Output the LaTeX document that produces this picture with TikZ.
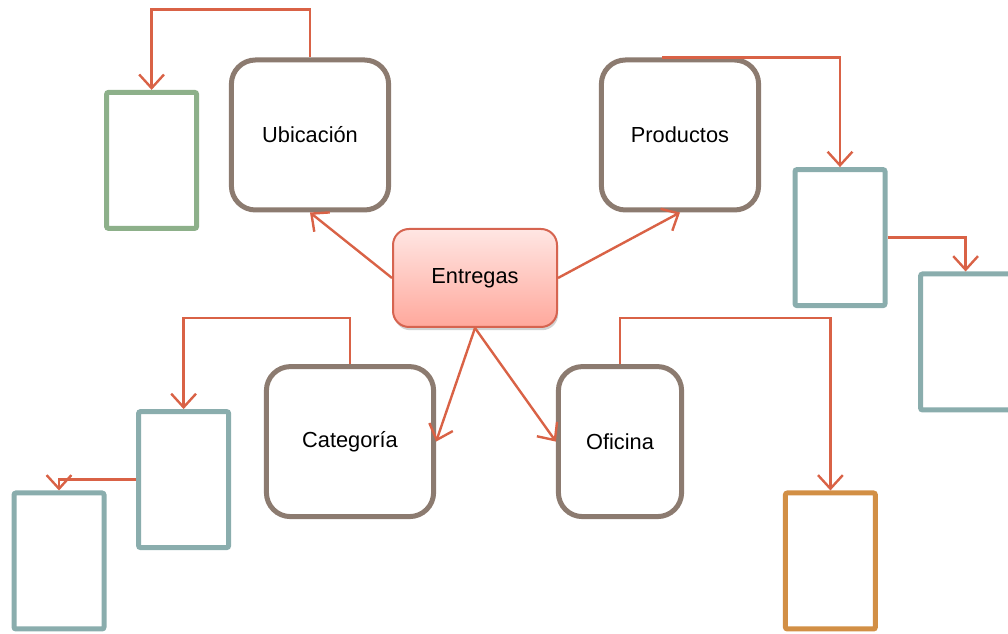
\documentclass[tikz,border=0pt]{standalone}
\usepackage{fontspec}
\setmainfont{Liberation Sans}
\usepackage{xcolor}
\usepackage{tikz}
\usetikzlibrary{positioning, calc, arrows.meta, shadows}
\definecolor{BoxBorder}{RGB}{140,123,112}
\definecolor{LinkColor}{RGB}{217,98,70}
\definecolor{CenterBorder}{RGB}{214,100,80}
\definecolor{CenterTop}{RGB}{255,230,227}
\definecolor{CenterBottom}{RGB}{255,168,156}
\definecolor{GreenBox}{RGB}{141,176,138}
\definecolor{TealBox}{RGB}{138,173,173}
\definecolor{OrangeBox}{RGB}{210,143,69}
\tikzset{
    tema/.style={
        rectangle,
        rounded corners=0.6cm,
        minimum height=3.75cm,
        align=center,
        draw=BoxBorder,
        line width=0.125cm,
        fill=white,
        font=\fontsize{15.5}{18}\selectfont
    },
    centro/.style={
        rectangle,
        rounded corners=0.4cm,
        minimum width=4.1cm,
        minimum height=2.45cm,
        draw=CenterBorder,
        line width=0.05cm,
        top color=CenterTop,
        bottom color=CenterBottom,
        drop shadow={shadow xshift=0.03cm, shadow yshift=-0.08cm, fill=black!35},
        font=\fontsize{15.5}{18}\selectfont
    },
    hoja/.style={
        rectangle,
        rounded corners=0.5mm,
        minimum width=2.25cm,
        minimum height=3.4cm,
        line width=0.125cm,
        fill=white
    },
    verde/.style={hoja, draw=GreenBox},
    azul/.style={hoja, draw=TealBox},
    naranja/.style={hoja, draw=OrangeBox},
    link/.style={-{Straight Barb[length=3.4mm,width=6.2mm]}, line width=0.06cm, draw=LinkColor}
}

\begin{document}
\begin{tikzpicture}

\useasboundingbox (0,0) rectangle (25.2,15.85);

% Centro
\node[centro] (n_entregas) at (11.875, 8.9) {Entregas};

% Temas
\node[tema, minimum width=3.93cm] (n_ubic) at (7.75, 12.475) {Ubicación};
\node[tema, minimum width=3.93cm] (n_prod) at (17.0, 12.475) {Productos};
\node[tema, minimum width=4.18cm] (n_cat) at (8.75, 4.81) {Categoría};
\node[tema, minimum width=3.08cm] (n_ofi) at (15.5, 4.81) {Oficina};

% Hojas
\node[verde] (b_ubic) at (3.79, 11.84) {};
\node[azul] (b_prod1) at (21.0, 9.91) {};
\node[azul] (b_prod2) at (24.14, 7.3) {};
\node[azul] (b_cat1) at (4.59, 3.86) {};
\node[azul] (b_cat2) at (1.475, 1.825) {};
\node[naranja] (b_ofi) at (20.76, 1.825) {};

% Conexiones desde el centro
\draw[link] (n_entregas.west) -- (n_ubic.south);
\draw[link] (n_entregas.east) -- (n_prod.south);
\draw[link] (n_entregas.south) -- (n_cat.east);
\draw[link] (n_entregas.south) -- (n_ofi.west);

% Conexiones a las hojas
\draw[link] (n_ubic.north) -- ++(0,1.2) -| (b_ubic.north);
\draw[link] ([xshift=-0.45cm]n_prod.north) -| (b_prod1.north);
\draw[link] (b_prod1.east) -| (b_prod2.north);
\draw[link] (n_cat.north) -- ++(0,1.15) -| (b_cat1.north);
\draw[link] (b_cat1.west) -| (b_cat2.north);
\draw[link] (n_ofi.north) -- ++(0,1.15) -| (b_ofi.north);

\end{tikzpicture}
\end{document}
